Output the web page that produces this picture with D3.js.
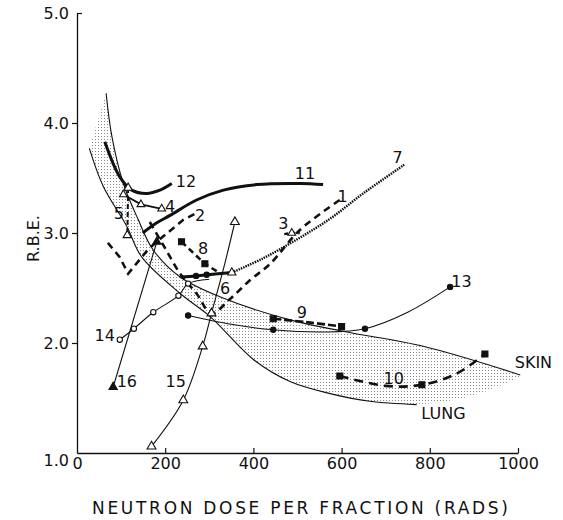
<!DOCTYPE html>
<html>
<head>
<meta charset="utf-8">
<script src="https://cdn.jsdelivr.net/npm/d3@7"></script>
<style>
body { margin: 0; background: #fff; }
text { font-family: "DejaVu Sans", sans-serif; fill: #111; }
</style>
</head>
<body>
<div id="chart"></div>
<script>
// tick values
var xTicks = [0, 200, 400, 600, 800, 1000];
var yTicks = [1, 2, 3, 4, 5];

// shaded band edges (dose, RBE)
var skin = [[66,4.27],[79,3.88],[105,3.45],[139,3.12],[172,2.85],[234,2.60],[324,2.42],[483,2.21],[612,2.10],[785,1.97],[1005,1.71]];
var lung = [[28,3.77],[60,3.42],[113,3.06],[147,2.78],[234,2.45],[302,2.24],[400,1.85],[483,1.65],[574,1.54],[664,1.47],[770,1.44]];
var lungShadeTail = [[850,1.48],[920,1.55],[1000,1.68]];

// numbered series (dose, RBE)
var s1 = [[165,3.10],[200,2.86],[234,2.63],[271,2.45],[305,2.27],[347,2.40],[392,2.57],[438,2.72],[506,3.03],[596,3.30]];
var s2 = [[70,2.91],[97,2.78],[116,2.63],[161,2.85],[181,2.92],[241,3.12],[275,3.19]];
var s3 = [[470,2.99],[487,3.00],[505,3.00]];
var s4 = [[105,3.35],[145,3.26],[192,3.22]];
var s5 = [[116,3.41],[114,2.98]];
var s6 = [[234,2.60],[270,2.61],[294,2.62],[320,2.63],[351,2.64]];
var s7 = [[351,2.64],[422,2.77],[498,2.94],[574,3.13],[649,3.36],[742,3.62]];
var s8 = [[237,2.92],[290,2.72],[318,2.65]];
var s9 = [[445,2.22],[520,2.19],[600,2.15]];
var s10 = [[596,1.70],[700,1.61],[782,1.62],[860,1.72],[925,1.90]];
var s11 = [[149,3.00],[180,3.09],[211,3.16],[271,3.30],[332,3.39],[407,3.44],[506,3.45],[558,3.44]];
var s12 = [[63,3.83],[97,3.51],[124,3.39],[158,3.36],[188,3.39],[215,3.45]];
var s13 = [[252,2.25],[350,2.17],[445,2.12],[560,2.10],[653,2.13],[750,2.28],[846,2.51]];
var s14 = [[97,2.03],[129,2.13],[173,2.28],[230,2.43],[252,2.54],[300,2.58]];
var s15 = [[169,1.06],[241,1.48],[285,1.97],[305,2.27],[335,2.72],[358,3.10]];
var s16 = [[82,1.60],[181,2.92]];

// annotation text and its anchor (dose, RBE)
var labels = [["12",247,3.47],["11",517,3.54],["7",727,3.69],["1",602,3.33],["3",468,3.09],
  ["4",211,3.24],["2",279,3.16],["5",95,3.18],["8",286,2.86],["6",336,2.50],["9",510,2.28],
  ["13",872,2.56],["14",63,2.07],["16",113,1.65],["15",224,1.65],["10",718,1.68],
  ["SKIN",1035,1.82],["LUNG",831,1.36]];

var svgWidth = 563;
var svgHeight = 520;
var margin = { top: 13, right: 45, bottom: 67, left: 77 };
var width = svgWidth - margin.left - margin.right;
var height = svgHeight - margin.top - margin.bottom;

var svg = d3.select("#chart").append("svg")
  .attr("width", svgWidth)
  .attr("height", svgHeight);

var defs = svg.append("defs");
var pat = defs.append("pattern")
  .attr("id", "dots")
  .attr("width", 3).attr("height", 3)
  .attr("patternUnits", "userSpaceOnUse");
pat.append("rect").attr("width", 1).attr("height", 1).attr("fill", "#8a8a8a");

var chartGroup = svg.append("g")
  .attr("transform", `translate(${margin.left}, ${margin.top})`);

var x = d3.scaleLinear().domain([0, 1000]).range([0, width]);
var y = d3.scaleLinear().domain([1, 5]).range([height, 0]);

var smooth = d3.line().x(d => x(d[0])).y(d => y(d[1])).curve(d3.curveCatmullRom);
var straight = d3.line().x(d => x(d[0])).y(d => y(d[1]));

// band fill
var lower = lung.concat(lungShadeTail).slice().reverse();
var bandPath = smooth(skin) + "L" + smooth(lower).slice(1) + "Z";
chartGroup.append("path")
  .attr("d", bandPath)
  .attr("fill", "url(#dots)")
  .attr("stroke", "none");
chartGroup.append("path").attr("d", smooth(skin)).attr("fill", "none").attr("stroke", "#111").attr("stroke-width", 1.1);
chartGroup.append("path").attr("d", smooth(lung)).attr("fill", "none").attr("stroke", "#111").attr("stroke-width", 1.1);

// axes
var bottomAxis = d3.axisBottom(x).tickValues(xTicks).tickSizeInner(-5).tickSizeOuter(0).tickPadding(5)
  .tickFormat(d3.format("d"));
var leftAxis = d3.axisLeft(y).tickValues(yTicks).tickSizeInner(5).tickSizeOuter(0).tickPadding(3)
  .tickFormat(d3.format(".1f"));

var xAxisG = chartGroup.append("g")
  .attr("transform", `translate(0, ${height})`)
  .call(bottomAxis);
var yAxisG = chartGroup.append("g").call(leftAxis);

[xAxisG, yAxisG].forEach(function(g) {
  g.select(".domain").attr("stroke", "#111").attr("stroke-width", 1.3);
  g.selectAll(".tick line").attr("stroke", "#111").attr("stroke-width", 1.2);
  g.selectAll(".tick text").attr("font-size", 16).attr("fill", "#111")
    .style("font-family", "DejaVu Sans, sans-serif");
});
xAxisG.selectAll(".tick").filter(d => d === 0).select("line").remove();
yAxisG.selectAll(".tick").filter(d => d === 1).select("line").remove();
yAxisG.selectAll(".tick").filter(d => d === 1).select("text").attr("dy", "0.75em");
yAxisG.selectAll(".tick").filter(d => d === 5).select("line").attr("x2", 5);

// series lines
var seriesStyle = [
  { data: s1, w: 2.6, dash: "7,5", curve: smooth },
  { data: s2, w: 2.6, dash: "7,5", curve: straight },
  { data: s3, w: 2.4, dash: "4,3", curve: straight },
  { data: s4, w: 1.8, dash: null, curve: straight },
  { data: s5, w: 2.0, dash: "5,3", curve: straight },
  { data: s6, w: 3.0, dash: null, curve: smooth },
  { data: s7, w: 2.4, dash: "1.5,1", curve: smooth },
  { data: s8, w: 2.6, dash: "6,4", curve: straight },
  { data: s9, w: 2.6, dash: "8,3", curve: smooth },
  { data: s10, w: 2.6, dash: "9,6", curve: smooth },
  { data: s11, w: 3.0, dash: null, curve: smooth },
  { data: s12, w: 3.0, dash: null, curve: smooth },
  { data: s13, w: 1.1, dash: null, curve: smooth },
  { data: s14, w: 1.1, dash: null, curve: smooth },
  { data: s15, w: 1.1, dash: null, curve: smooth },
  { data: s16, w: 1.1, dash: null, curve: straight }
];

seriesStyle.forEach(function(s) {
  chartGroup.append("path")
    .attr("d", s.curve(s.data))
    .attr("fill", "none")
    .attr("stroke", "#111")
    .attr("stroke-width", s.w)
    .attr("stroke-dasharray", s.dash);
});

// markers
function addMarkers(points, type, size, filled) {
  chartGroup.selectAll(null)
    .data(points)
    .enter()
    .append("path")
    .attr("transform", d => `translate(${x(d[0])}, ${y(d[1])})`)
    .attr("d", d3.symbol().type(type).size(size))
    .attr("fill", filled ? "#111" : "#fff")
    .attr("stroke", "#111")
    .attr("stroke-width", 1.1);
}

addMarkers([s3[1]], d3.symbolTriangle, 26, false);
addMarkers(s4, d3.symbolTriangle, 26, false);
addMarkers(s5, d3.symbolTriangle, 30, false);
addMarkers([s6[1], s6[2]], d3.symbolCircle, 22, true);
addMarkers([s6[4]], d3.symbolTriangle, 30, false);
addMarkers([s8[0], s8[1]], d3.symbolSquare, 36, true);
addMarkers([s9[0], s9[2]], d3.symbolSquare, 36, true);
addMarkers([s10[0], s10[2], s10[4]], d3.symbolSquare, 36, true);
addMarkers([s13[0], s13[2], s13[4], s13[6]], d3.symbolCircle, 22, true);
addMarkers(s14.slice(0, 5), d3.symbolCircle, 22, false);
addMarkers([s15[0], s15[1], s15[2], s15[3], s15[5]], d3.symbolTriangle, 34, false);
addMarkers(s16, d3.symbolTriangle, 30, true);

// series labels
chartGroup.selectAll(".lab")
  .data(labels)
  .enter()
  .append("text")
  .attr("class", "lab")
  .attr("x", d => x(d[1]))
  .attr("y", d => y(d[2]))
  .attr("text-anchor", "middle")
  .attr("dominant-baseline", "central")
  .attr("font-size", 16)
  .text(d => d[0]);

// axis titles
chartGroup.append("text")
  .attr("transform", `translate(${-44}, ${y(2.95)}) rotate(-90)`)
  .attr("text-anchor", "middle")
  .attr("dominant-baseline", "central")
  .attr("font-size", 16)
  .text("R.B.E.");

chartGroup.append("text")
  .attr("x", 223)
  .attr("y", height + 55)
  .attr("text-anchor", "middle")
  .attr("dominant-baseline", "central")
  .attr("font-size", 17)
  .attr("textLength", 416)
  .attr("lengthAdjust", "spacing")
  .text("NEUTRON DOSE PER FRACTION (RADS)");
</script>
</body>
</html>
